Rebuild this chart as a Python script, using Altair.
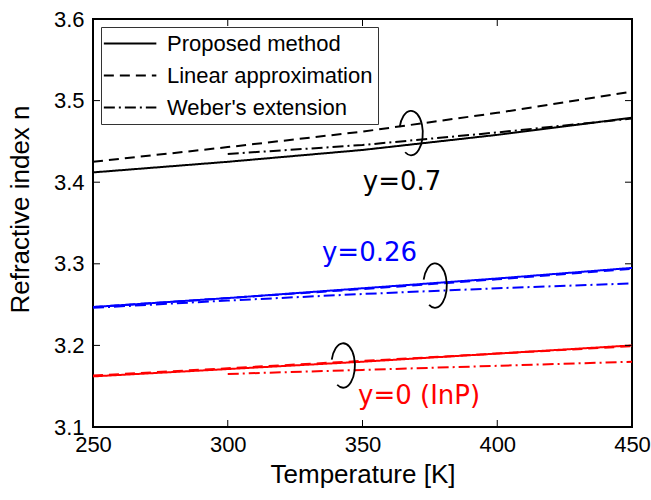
import altair as alt
import pandas as pd

# Temperature samples [K]
temps = [250, 300, 350, 400, 450]
temps_weber_short = [300, 350, 400, 450]

# In(1-y)Ga(y)As(y)P(1-y) refractive index vs temperature
# y = 0.7
n07_proposed = [3.412, 3.425, 3.4395, 3.458, 3.479]
n07_linear = [3.425, 3.443, 3.462, 3.485, 3.511]
n07_weber = [3.4346, 3.4456, 3.461, 3.478]
# y = 0.26
n026_proposed = [3.247, 3.258, 3.270, 3.282, 3.295]
n026_linear = [3.247, 3.258, 3.269, 3.281, 3.294]
n026_weber = [3.246, 3.255, 3.263, 3.270, 3.276]
# y = 0 (InP)
n0_proposed = [3.162, 3.171, 3.180, 3.190, 3.200]
n0_linear = [3.163, 3.172, 3.181, 3.190, 3.199]
n0_weber = [3.165, 3.170, 3.175, 3.180]

methods = ["Proposed method", "Linear approximation", "Weber's extension"]
alloys = ["0.7", "0.26", "0"]
alloy_colors = ["#000000", "#0000ff", "#ff0000"]

# Curve labels and their anchor points
label_text = ["y=0.7", "y=0.26", "y=0 (InP)"]
label_T = [364.7, 352.6, 371.0]
label_n = [3.400, 3.313, 3.138]

# Ellipse markers grouping the three curves of each alloy
ring_T = [368.0, 376.9, 342.8]
ring_n = [3.4603, 3.2734, 3.1754]

x_ticks = [250, 300, 350, 400, 450]
y_ticks = [3.1, 3.2, 3.3, 3.4, 3.5, 3.6]

rows = []
series = [
    ("0.7", "Proposed method", temps, n07_proposed),
    ("0.7", "Linear approximation", temps, n07_linear),
    ("0.7", "Weber's extension", temps_weber_short, n07_weber),
    ("0.26", "Proposed method", temps, n026_proposed),
    ("0.26", "Linear approximation", temps, n026_linear),
    ("0.26", "Weber's extension", temps, n026_weber),
    ("0", "Proposed method", temps, n0_proposed),
    ("0", "Linear approximation", temps, n0_linear),
    ("0", "Weber's extension", temps_weber_short, n0_weber),
]
for alloy, method, ts, ns in series:
    for t, n in zip(ts, ns):
        rows.append({"T": t, "n": n, "alloy": alloy, "method": method})
df = pd.DataFrame(rows)

labels_df = pd.DataFrame({"T": label_T, "n": label_n, "label": label_text, "alloy": alloys})
rings_df = pd.DataFrame({"T": ring_T, "n": ring_n})
xt_df = pd.DataFrame({"T": x_ticks})
yt_df = pd.DataFrame({"n": y_ticks})

W, H = 539, 408
color_scale = alt.Scale(domain=alloys, range=alloy_colors)
label_font = "Liberation Sans"

# Shared positional encodings (identical in every layer so the axes merge cleanly)
X = alt.X("T:Q", scale=alt.Scale(domain=[250, 450], nice=False, zero=False),
          title="Temperature [K]",
          axis=alt.Axis(values=x_ticks, format="d", labelPadding=7, titlePadding=6,
                        labelFlush=False))
Y = alt.Y("n:Q", scale=alt.Scale(domain=[3.1, 3.6], nice=False, zero=False),
          title="Refractive index n",
          axis=alt.Axis(values=y_ticks, format=".1f", labelPadding=9, titlePadding=20,
                        labelFlush=False, titleY=190))

# Legend sample: a horizontal stroke drawn mostly to the right of the symbol centre
legend_stroke = "M -1.3 0 H 3.7"

lines = alt.Chart(df).mark_line(strokeWidth=2, clip=True).encode(
    x=X, y=Y,
    color=alt.Color("alloy:N", scale=color_scale, legend=None),
    strokeDash=alt.StrokeDash(
        "method:N",
        scale=alt.Scale(domain=methods, range=[[1, 0], [10, 6], [11, 4, 2, 4]]),
        legend=alt.Legend(title=None, orient="top-left", offset=8),
    ),
    order="T:Q",
)

labels = alt.Chart(labels_df).mark_text(font="DejaVu Sans", fontSize=26).encode(
    x=X, y=Y,
    text="label:N",
    color=alt.Color("alloy:N", scale=color_scale, legend=None),
)

ring_path = "M -0.51 -0.26 A 0.53 1 0 1 1 -0.265 0.866"
rings = alt.Chart(rings_df).mark_point(
    shape=ring_path, size=1980, filled=False, strokeWidth=1.8, opacity=1
).encode(x=X, y=Y, color=alt.value("black"))

# Inward tick marks on all four sides of the frame
tick_len = 7
left_ticks = alt.Chart(yt_df).mark_rule(color="black", strokeWidth=1).encode(
    y=Y, x=alt.value(0), x2=alt.value(tick_len))
right_ticks = alt.Chart(yt_df).mark_rule(color="black", strokeWidth=1).encode(
    y=Y, x=alt.value(W - tick_len), x2=alt.value(W))
bottom_ticks = alt.Chart(xt_df).mark_rule(color="black", strokeWidth=1).encode(
    x=X, y=alt.value(H - tick_len), y2=alt.value(H))
top_ticks = alt.Chart(xt_df).mark_rule(color="black", strokeWidth=1).encode(
    x=X, y=alt.value(0), y2=alt.value(tick_len))

chart = alt.layer(
    lines, left_ticks, right_ticks, bottom_ticks, top_ticks, rings, labels
).properties(
    width=W, height=H,
    autosize=alt.AutoSizeParams(type="none"),
    padding={"left": 93, "top": 19, "right": 19, "bottom": 73},
    background="white",
).configure_view(
    stroke="black", strokeWidth=2
).configure_axis(
    domain=False, ticks=False, grid=False,
    labelFont=label_font, labelFontSize=22, labelColor="black",
    titleFont=label_font, titleFontSize=26, titleFontWeight="normal", titleColor="black",
).configure_legend(
    labelFont=label_font, labelFontSize=22, labelColor="black", labelLimit=400,
    symbolType=legend_stroke, symbolSize=441, symbolStrokeWidth=2,
    symbolStrokeColor="black", strokeColor="#333333", fillColor="white",
    padding=5, rowPadding=9, cornerRadius=0, labelOffset=38,
)

chart.save("out.html", embed_options={"renderer": "svg", "actions": False})
